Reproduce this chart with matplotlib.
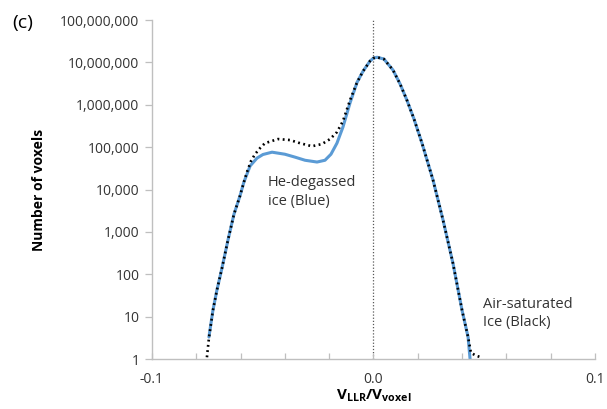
"""Voxel count distribution for He-degassed vs air-saturated ice."""
import matplotlib
matplotlib.use("Agg")
import matplotlib.pyplot as plt
from matplotlib.ticker import FuncFormatter, FixedLocator, NullLocator

plt.rcParams["font.family"] = ["Open Sans", "DejaVu Sans"]
plt.rcParams["mathtext.fontset"] = "custom"
plt.rcParams["mathtext.rm"] = "Open Sans"
plt.rcParams["mathtext.bf"] = "Open Sans:bold"

# Air-saturated ice (black dotted)
black_x = [-0.0752, -0.0743, -0.0725, -0.0707, -0.0684, -0.0657, -0.0630, -0.0603,
           -0.0585, -0.0571, -0.0553, -0.0535, -0.0512, -0.0490, -0.0431, -0.0377,
           -0.0332, -0.0278, -0.0233, -0.0196, -0.0165, -0.0138, -0.0106, -0.0074,
           -0.0047, -0.0016, 0.0, 0.0016, 0.0047, 0.0088, 0.0120, 0.0151,
           0.0183, 0.0219, 0.0269, 0.0314, 0.0359, 0.0400, 0.0427, 0.0440,
           0.0463, 0.0485]
black_y = [1.1, 3.1, 14, 42, 140, 640, 2600, 7000,
           15000, 26000, 47000, 68000, 95000, 124000, 155000, 147000,
           124000, 105000, 118000, 155000, 226000, 410000, 1280000, 3400000,
           6200000, 10700000, 12600000, 13200000, 12000000, 6600000, 3100000, 1280000,
           460000, 124000, 16600, 1900, 180, 14, 3.3, 1.4,
           1.2, 1.1]

# He-degassed ice (blue)
blue_x = [-0.0743, -0.0725, -0.0707, -0.0684, -0.0657, -0.0630, -0.0603, -0.0585,
          -0.0557, -0.0526, -0.0499, -0.0458, -0.0400, -0.0354, -0.0309, -0.0255,
          -0.0219, -0.0192, -0.0165, -0.0138, -0.0106, -0.0074, -0.0047, -0.0016,
          0.0, 0.0016, 0.0047, 0.0088, 0.0120, 0.0151, 0.0183, 0.0219,
          0.0269, 0.0314, 0.0359, 0.0400, 0.0427, 0.0436]
blue_y = [3.3, 14, 42, 140, 640, 2600, 7000, 15000,
          36000, 55000, 67000, 76000, 68000, 58000, 49000, 44500,
          49000, 68000, 124000, 296000, 1100000, 3400000, 6200000, 10700000,
          12600000, 13200000, 12000000, 6600000, 3100000, 1280000, 460000, 124000,
          16600, 1900, 180, 14, 3.3, 1.0]

x_ticks = [-0.1, 0.0, 0.1]
x_tick_labels = ["-0.1", "0.0", "0.1"]
x_minor_ticks = [-0.08, -0.06, -0.04, -0.02, 0.02, 0.04, 0.06, 0.08]

text_color = "#333333"
axis_color = "#BFBFBF"

fig = plt.figure(figsize=(6.07, 4.09), dpi=100)
ax = fig.add_axes([0.2504, 0.1222, 0.7298, 0.8289])

ax.axvline(0, color="#595959", lw=0.9, linestyle=(0, (1, 1.5)), zorder=1)
ax.plot(blue_x, blue_y, color="#5B9BD5", lw=2.2, solid_capstyle="round",
        solid_joinstyle="round", zorder=2)
ax.plot(black_x, black_y, color="black", lw=1.9, linestyle=(0, (0.7, 1.3)),
        dash_capstyle="butt", zorder=3)

ax.set_yscale("log")
ax.set_ylim(1, 1e8)
ax.set_xlim(-0.1, 0.1)
ax.yaxis.set_minor_locator(NullLocator())
ax.yaxis.set_major_formatter(FuncFormatter(lambda v, p: f"{v:,.0f}"))
ax.set_xticks(x_ticks)
ax.set_xticklabels(x_tick_labels)
ax.xaxis.set_minor_locator(FixedLocator(x_minor_ticks))

for side in ("top", "right"):
    ax.spines[side].set_visible(False)
for side in ("left", "bottom"):
    ax.spines[side].set_color(axis_color)
    ax.spines[side].set_linewidth(1.0)

ax.tick_params(axis="y", which="major", direction="out", length=5, width=0.9,
               color=axis_color, labelsize=10, labelcolor=text_color, pad=4)
ax.tick_params(axis="x", which="both", direction="in", length=4, width=0.9,
               color=axis_color, labelsize=10, labelcolor=text_color, pad=9)

ax.set_ylabel("Number of voxels", fontsize=10, fontweight="bold", color="black", labelpad=10)
ax.set_xlabel(r"$\mathbf{V_{LLR}/V_{voxel}}$", fontsize=11, color="black", labelpad=1)

ax.text(-0.0478, 8700, "He-degassed\nice (Blue)", fontsize=10.5, color=text_color,
        va="center", ha="left", linespacing=1.3)
ax.text(0.0496, 12, "Air-saturated\nIce (Black)", fontsize=10.5, color=text_color,
        va="center", ha="left", linespacing=1.3)

fig.text(12 / 607, 1 - 23 / 409, "(c)", fontsize=14, color="black", va="center", ha="left")

fig.savefig("out.png", dpi=100)
